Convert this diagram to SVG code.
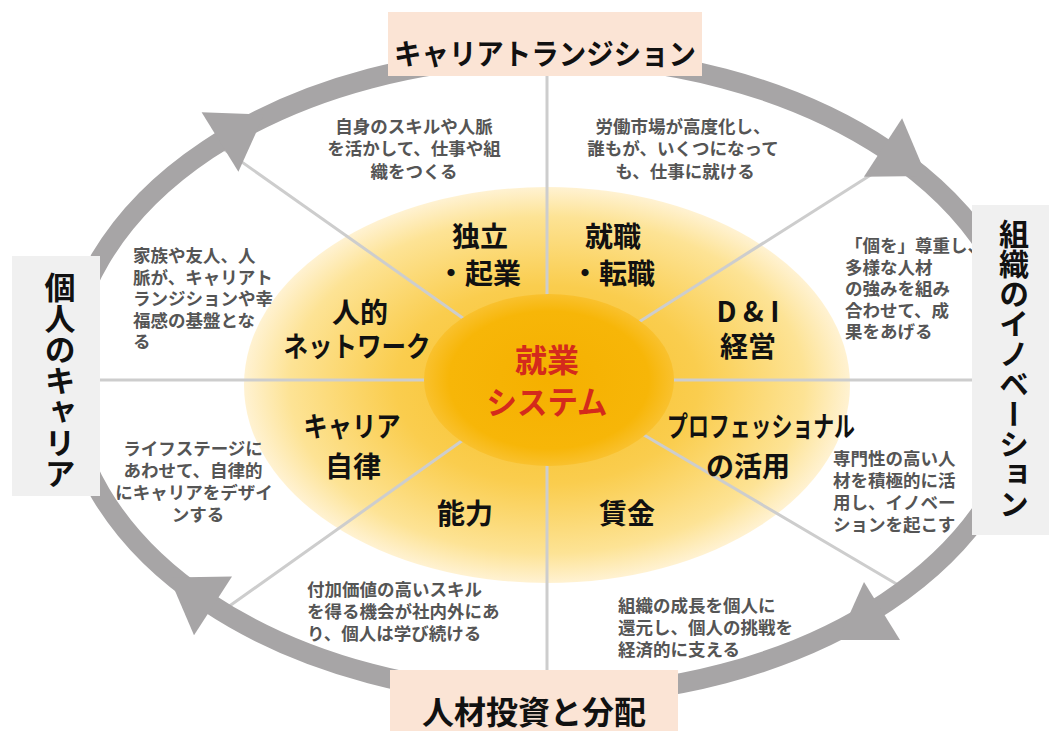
<svg xmlns="http://www.w3.org/2000/svg" width="1049" height="731" viewBox="0 0 1049 731">
<defs>
<radialGradient id="gOuter" cx="0.5" cy="0.5" r="0.5">
<stop offset="0" stop-color="#f8bf25"/>
<stop offset="0.5" stop-color="#facd4e"/>
<stop offset="0.85" stop-color="#fde395"/>
<stop offset="1" stop-color="#fff2d2"/>
</radialGradient>
<radialGradient id="gInner" cx="0.5" cy="0.5" r="0.5">
<stop offset="0" stop-color="#f5b000"/>
<stop offset="0.8" stop-color="#f7b608"/>
<stop offset="1" stop-color="#f9c12e"/>
</radialGradient>
<style>
.lbl{font-family:"Noto Sans CJK JP","Liberation Sans",sans-serif;font-weight:700;font-size:28px;fill:#111;text-anchor:middle;dominant-baseline:central}
.ctr{font-family:"Noto Sans CJK JP","Liberation Sans",sans-serif;font-weight:700;font-size:32px;fill:#d42a1c;text-anchor:middle;dominant-baseline:central}
.desc{font-family:"Noto Sans CJK JP","Liberation Sans",sans-serif;font-weight:700;font-size:17.5px;fill:#555;dominant-baseline:central}
.mid{text-anchor:middle}
.head{font-family:"Noto Sans CJK JP","Liberation Sans",sans-serif;font-weight:700;font-size:29px;fill:#111;text-anchor:middle;dominant-baseline:central}
.vert{font-family:"Noto Sans CJK JP","Liberation Sans",sans-serif;font-weight:700;fill:#111;text-anchor:middle;writing-mode:vertical-rl}
.div{stroke:#cdcdcd;stroke-width:3;fill:none}
.ring{stroke:#a7a5a6;stroke-width:20;fill:none}
.arw{fill:#a7a5a6}
.boxP{fill:#fbe4d5}
.boxG{fill:#f0f0f0}
</style>
</defs>
<rect width="1049" height="731" fill="#ffffff"/>

<g id="core">
<ellipse cx="547" cy="385" rx="303" ry="198" fill="url(#gOuter)"/>
</g>

<g id="connectors">
<line class="div" x1="547" y1="70" x2="547" y2="680"/>
<line class="div" x1="95" y1="380" x2="980" y2="380"/>
<line class="div" x1="549" y1="379" x2="215" y2="143"/>
<line class="div" x1="549" y1="379" x2="888" y2="164"/>
<line class="div" x1="549" y1="379" x2="221" y2="612"/>
<line class="div" x1="549" y1="379" x2="905" y2="589"/>
</g>

<g id="center">
<ellipse cx="549" cy="380" rx="125" ry="86" fill="url(#gInner)"/>
<text class="ctr"><tspan x="547" y="358">就業</tspan><tspan x="547" y="400" textLength="121" lengthAdjust="spacingAndGlyphs">システム</tspan></text>
</g>

<g id="cycle">
<ellipse class="ring" cx="547" cy="376" rx="480" ry="320"/>
<polygon class="arw" points="238.4,171.8 201.6,112.2 264.2,114.6"/>
<polygon class="arw" points="863.9,176.8 902.1,118.2 926.5,175.9"/>
<polygon class="arw" points="232,576.4 194,635.2 169.3,577.6"/>
<polygon class="arw" points="900,640 864,582 838,640"/>
</g>

<g id="seg-dokuritsu">
<text class="lbl"><tspan x="480" y="235">独立</tspan><tspan x="479" y="272">・起業</tspan></text>
</g>
<g id="seg-shushoku">
<text class="lbl"><tspan x="613" y="235">就職</tspan><tspan x="613" y="272">・転職</tspan></text>
</g>
<g id="seg-network">
<text class="lbl"><tspan x="360" y="311">人的</tspan><tspan x="357" y="345" textLength="147" lengthAdjust="spacingAndGlyphs">ネットワーク</tspan></text>
</g>
<g id="seg-di">
<text class="lbl"><tspan x="748" y="310" textLength="63" lengthAdjust="spacing">D&amp;I</tspan><tspan x="748" y="345">経営</tspan></text>
</g>
<g id="seg-career">
<text class="lbl"><tspan x="352" y="425" textLength="97" lengthAdjust="spacingAndGlyphs">キャリア</tspan><tspan x="353" y="465">自律</tspan></text>
</g>
<g id="seg-professional">
<text class="lbl"><tspan x="761" y="425" textLength="188" lengthAdjust="spacingAndGlyphs">プロフェッショナル</tspan><tspan x="748" y="465">の活用</tspan></text>
</g>
<g id="seg-noryoku">
<text class="lbl" x="465" y="512">能力</text>
</g>
<g id="seg-chingin">
<text class="lbl" x="627" y="512">賃金</text>
</g>

<g id="desc-topleft">
<text class="desc mid"><tspan x="414" y="125">自身のスキルや人脈</tspan><tspan x="414" y="147">を活かして、仕事や組</tspan><tspan x="414" y="170">織をつくる</tspan></text>
</g>
<g id="desc-topright">
<text class="desc mid"><tspan x="683" y="125">労働市場が高度化し、</tspan><tspan x="683" y="147">誰もが、いくつになって</tspan><tspan x="685" y="170">も、仕事に就ける</tspan></text>
</g>
<g id="desc-left">
<text class="desc"><tspan x="133" y="254">家族や友人、人</tspan><tspan x="133" y="275.5">脈が、キャリアト</tspan><tspan x="133" y="297">ランジションや幸</tspan><tspan x="133" y="318.5">福感の基盤とな</tspan><tspan x="133" y="340">る</tspan></text>
</g>
<g id="desc-right">
<text class="desc"><tspan x="845" y="244">「個を」尊重し、</tspan><tspan x="845" y="265.5">多様な人材</tspan><tspan x="845" y="287">の強みを組み</tspan><tspan x="845" y="308.5">合わせて、成</tspan><tspan x="845" y="330">果をあげる</tspan></text>
</g>
<g id="desc-leftlower">
<text class="desc mid"><tspan x="193" y="447">ライフステージに</tspan><tspan x="193" y="469">あわせて、自律的</tspan><tspan x="194" y="491">にキャリアをデザイ</tspan><tspan x="198" y="513">ンする</tspan></text>
</g>
<g id="desc-rightlower">
<text class="desc"><tspan x="833" y="457">専門性の高い人</tspan><tspan x="833" y="479">材を積極的に活</tspan><tspan x="833" y="501">用し、イノベー</tspan><tspan x="833" y="523">ションを起こす</tspan></text>
</g>
<g id="desc-bottomleft">
<text class="desc"><tspan x="307" y="588">付加価値の高いスキル</tspan><tspan x="307" y="610">を得る機会が社内外にあ</tspan><tspan x="307" y="632">り、個人は学び続ける</tspan></text>
</g>
<g id="desc-bottomright">
<text class="desc"><tspan x="618" y="604">組織の成長を個人に</tspan><tspan x="618" y="626">還元し、個人の挑戦を</tspan><tspan x="618" y="648">経済的に支える</tspan></text>
</g>

<g id="head-top">
<rect class="boxP" x="388" y="12" width="314" height="64"/>
<text class="head" x="545" y="52" textLength="302" lengthAdjust="spacingAndGlyphs">キャリアトランジション</text>
</g>
<g id="head-bottom">
<rect class="boxP" x="390" y="670" width="288" height="61"/>
<text class="head" x="534" y="710" style="font-size:32px">人材投資と分配</text>
</g>
<g id="head-left">
<rect class="boxG" x="12" y="256" width="88" height="240"/>
<text class="vert" x="60" y="380" style="font-size:31px">個人のキャリア</text>
</g>
<g id="head-right">
<rect class="boxG" x="972" y="205" width="77" height="330"/>
<text class="vert" x="1014" y="369" style="font-size:30px">組織のイノベーション</text>
</g>
</svg>
